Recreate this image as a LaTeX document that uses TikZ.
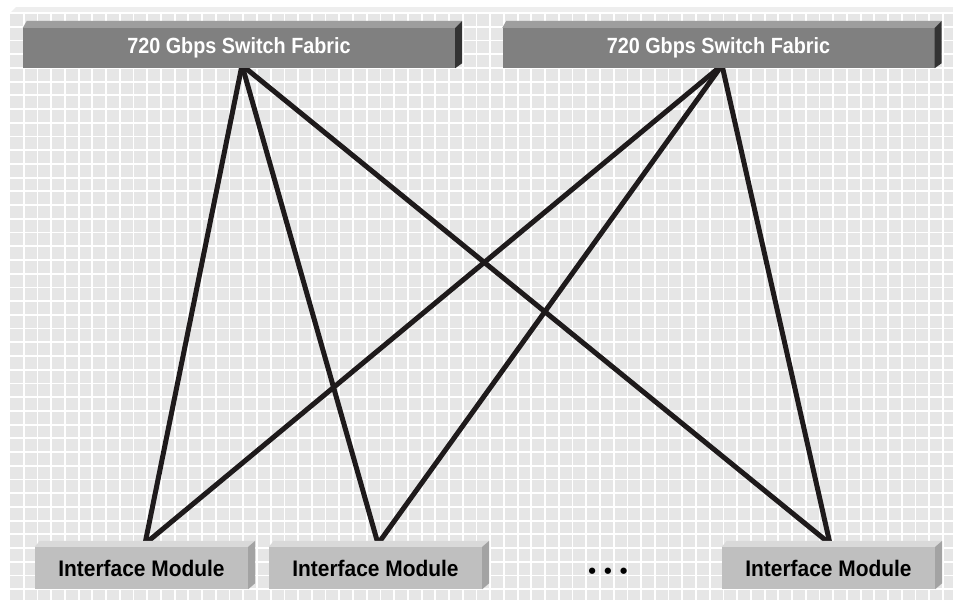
\documentclass[tikz,border=0pt]{standalone}
\usepackage{fontspec}
\setmainfont{Liberation Sans}
\newfontfamily\fabfont[FakeStretch=0.9]{Liberation Sans}
\newfontfamily\modfont[FakeStretch=0.93]{Liberation Sans}
\usetikzlibrary{calc}
\pgfdeclarelayer{bg}
\pgfsetlayers{bg,main}
\definecolor{cellgray}{HTML}{E6E6E6}
\definecolor{bandgray}{HTML}{EEEEEE}
\definecolor{fabfront}{HTML}{808080}
\definecolor{fabtop}{HTML}{9E9E9E}
\definecolor{fabside}{HTML}{333333}
\definecolor{modfront}{HTML}{BFBFBF}
\definecolor{modtop}{HTML}{D9D9D9}
\definecolor{modside}{HTML}{A3A3A3}
\definecolor{linkblack}{HTML}{1E1A1B}
\begin{document}
\begin{tikzpicture}[x=1pt,y=-1pt,
  fabric/.style={fill=fabfront, minimum width=432pt, minimum height=40pt, inner sep=0pt, text=white, font=\fabfont\bfseries\fontsize{22}{26}\selectfont},
  module/.style={fill=modfront, minimum width=213pt, minimum height=42pt, inner sep=0pt, text=black, font=\modfont\bfseries\fontsize{22.5}{27}\selectfont},
  link/.style={draw=linkblack, line width=5pt},
  gridline/.style={draw=white, line width=1.8pt},
  dotsnode/.style={inner sep=0pt, text=black, font=\bfseries\fontsize{22}{26}\selectfont}]
\useasboundingbox (0,0) rectangle (953,600);

% switch fabrics
\node[fabric] (f1) at (239,48) {720 Gbps Switch Fabric};
\node[fabric] (f2) at (718.5,48) {720 Gbps Switch Fabric};
\foreach \f in {f1,f2}{
  \fill[fabtop] (\f.north west) -- ++(4,-7) -- ($(\f.north east)+(7,-7)$) -- (\f.north east) -- cycle;
  \fill[fabside] (\f.north east) -- ++(7,-7) -- ($(\f.south east)+(7,-5)$) -- (\f.south east) -- cycle;
}

% interface modules
\node[module] (m1) at (141.5,568) {Interface Module};
\node[module] (m2) at (375.5,568) {Interface Module};
\node[module] (m3) at (828.5,568) {Interface Module};
\foreach \m in {m1,m2,m3}{
  \fill[modtop] (\m.north west) -- ++(5,-6) -- ($(\m.north east)+(7,-6)$) -- (\m.north east) -- cycle;
  \fill[modside] (\m.north east) -- ++(7,-6) -- ($(\m.south east)+(7,-6)$) -- (\m.south east) -- cycle;
}

\node[dotsnode] (dots) at (608,573) {•\hspace{8pt}•\hspace{8pt}•};

% link end points
\coordinate (a1) at ($(f1.south)+(3,-3)$);
\coordinate (a2) at ($(f2.south)+(3.5,-3)$);
\coordinate (b1) at ($(m1.north)+(3.5,-3)$);
\coordinate (b2) at ($(m2.north)+(2.5,-3)$);
\coordinate (b3) at ($(m3.north)+(1.5,-3)$);

\begin{pgfonlayer}{bg}
  \fill[white] (0,0) rectangle (953,600);
  \fill[cellgray] (10,13) -- (10,600) -- (953,600) -- (953,13) -- cycle;
  \fill[bandgray] (10,13) -- (16,7) -- (953,7) -- (953,13) -- cycle;
  \foreach \k in {1,...,68} \draw[gridline] ({10+13.72*\k},13) -- ({10+13.72*\k},600);
  \foreach \k in {0,...,42} \draw[gridline] (10,{13+13.72*\k}) -- (953,{13+13.72*\k});
  \draw[link] (a1) -- (b1);
  \draw[link] (a1) -- (b2);
  \draw[link] (a1) -- (b3);
  \draw[link] (a2) -- (b1);
  \draw[link] (a2) -- (b2);
  \draw[link] (a2) -- (b3);
\end{pgfonlayer}
\end{tikzpicture}
\end{document}
